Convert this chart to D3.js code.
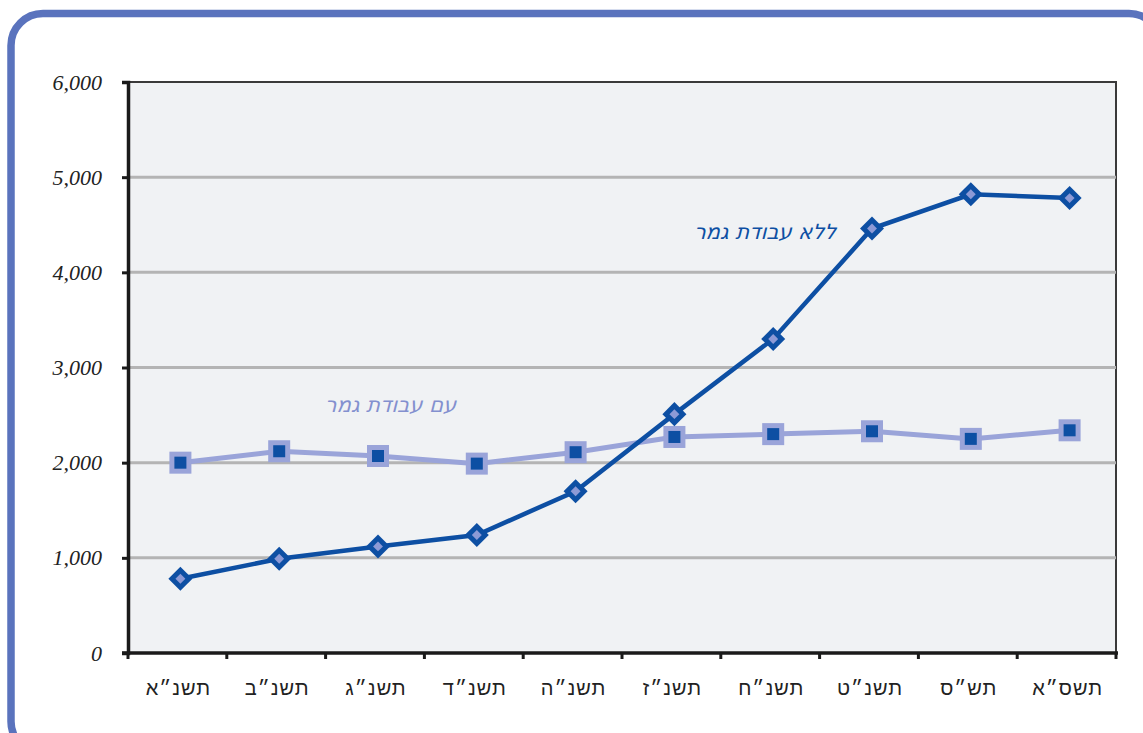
<!DOCTYPE html>
<html lang="he">
<head>
<meta charset="utf-8">
<script src="https://cdn.jsdelivr.net/npm/d3@7"></script>
<style>
    html, body { margin: 0; padding: 0; background: #fff; }
    svg { display: block; }
    .y-label { font-family: "Liberation Serif", "DejaVu Serif", serif; font-style: italic; font-size: 22px; fill: #222; }
    .x-label { font-family: "Liberation Sans", "DejaVu Sans", sans-serif; font-size: 20px; fill: #222; letter-spacing: 1px; }
    .note { font-family: "DejaVu Sans", "Liberation Sans", sans-serif; font-size: 21px; }
</style>
</head>
<body>
<div id="chart"></div>
<script>
// Years (Hebrew calendar) along the x axis
const years = ["תשנ״א", "תשנ״ב", "תשנ״ג", "תשנ״ד", "תשנ״ה", "תשנ״ז", "תשנ״ח", "תשנ״ט", "תש״ס", "תשס״א"];
// Without thesis (dark line, diamonds)
const withoutThesis = [780, 990, 1120, 1240, 1700, 2510, 3300, 4460, 4820, 4780];
// With thesis (light line, squares)
const withThesis = [2000, 2120, 2070, 1990, 2110, 2270, 2300, 2330, 2250, 2340];
const yTicks = [0, 1000, 2000, 3000, 4000, 5000, 6000];
const labelWithout = "ללא עבודת גמר";
const labelWith = "עם עבודת גמר";

const W = 1143, H = 733;
const margin = { top: 82, right: 27, bottom: 80, left: 128 };
const innerW = W - margin.left - margin.right;
const innerH = H - margin.top - margin.bottom;

const DARK = "#0d4fa3";
const LIGHT = "#9aa4d9";

const svg = d3.select("#chart").append("svg")
    .attr("width", W).attr("height", H);

// Rounded frame around the whole figure
svg.append("rect")
    .attr("x", 11).attr("y", 13.5)
    .attr("width", 1150).attr("height", 740)
    .attr("rx", 32).attr("ry", 32)
    .attr("fill", "none")
    .attr("stroke", "#5a73bd")
    .attr("stroke-width", 7.5);

const g = svg.append("g")
    .attr("transform", `translate(${margin.left},${margin.top})`);

const x = d3.scaleBand().domain(years).range([0, innerW]);
const y = d3.scaleLinear().domain([0, 6000]).range([innerH, 0]);

// Plot area
g.append("rect")
    .attr("width", innerW).attr("height", innerH)
    .attr("fill", "#f0f2f4")
    .attr("stroke", "#3a3a3a")
    .attr("stroke-width", 2);

// Gridlines
g.append("g")
    .selectAll("line")
    .data(yTicks.filter((v) => v > 0 && v < 6000))
    .join("line")
    .attr("x1", 0).attr("x2", innerW)
    .attr("y1", (d) => y(d)).attr("y2", (d) => y(d))
    .attr("stroke", "#b4b4b4")
    .attr("stroke-width", 3);

// Y axis
const yAxis = g.append("g")
    .call(d3.axisLeft(y).tickValues(yTicks)
        .tickFormat(d3.format(","))
        .tickSize(6).tickPadding(20));
yAxis.select(".domain").attr("stroke", "#1a1a1a").attr("stroke-width", 3.5);
yAxis.selectAll(".tick line").attr("stroke", "#1a1a1a").attr("stroke-width", 3);
yAxis.selectAll(".tick text").attr("class", "y-label").attr("fill", null);

// X axis: ticks at band edges, labels at band centres
const xAxis = g.append("g")
    .attr("transform", `translate(0,${innerH})`);
xAxis.append("line")
    .attr("x1", -6).attr("x2", innerW + 2)
    .attr("stroke", "#1a1a1a").attr("stroke-width", 3.5);
xAxis.selectAll(".xtick")
    .data(years.concat([null]))
    .join("line")
    .attr("class", "xtick")
    .attr("x1", (d, i) => i * x.bandwidth())
    .attr("x2", (d, i) => i * x.bandwidth())
    .attr("y1", 0).attr("y2", 6)
    .attr("stroke", "#1a1a1a").attr("stroke-width", 3);
xAxis.selectAll(".x-label")
    .data(years)
    .join("text")
    .attr("class", "x-label")
    .attr("x", (d) => x(d) + x.bandwidth() / 2 + 1)
    .attr("y", 42)
    .attr("text-anchor", "middle")
    .text((d) => d);

const cx = (i) => x(years[i]) + x.bandwidth() / 2 + 3;
const lineGen = d3.line()
    .x((d, i) => cx(i))
    .y((d) => y(d));

// With thesis series
g.append("path")
    .datum(withThesis)
    .attr("d", lineGen)
    .attr("fill", "none")
    .attr("stroke", LIGHT)
    .attr("stroke-width", 5);

const sq = g.append("g").selectAll("g")
    .data(withThesis)
    .join("g")
    .attr("transform", (d, i) => `translate(${cx(i)},${y(d)})`);
sq.append("rect")
    .attr("x", -11).attr("y", -11).attr("width", 22).attr("height", 22)
    .attr("fill", LIGHT);
sq.append("rect")
    .attr("x", -6).attr("y", -6).attr("width", 12).attr("height", 12)
    .attr("fill", DARK);

// Without thesis series
g.append("path")
    .datum(withoutThesis)
    .attr("d", lineGen)
    .attr("fill", "none")
    .attr("stroke", DARK)
    .attr("stroke-width", 4.5);

const dm = g.append("g").selectAll("g")
    .data(withoutThesis)
    .join("g")
    .attr("transform", (d, i) => `translate(${cx(i)},${y(d)}) rotate(45)`);
dm.append("rect")
    .attr("x", -8.5).attr("y", -8.5).attr("width", 17).attr("height", 17)
    .attr("fill", DARK);
dm.append("rect")
    .attr("x", -3.5).attr("y", -3.5).attr("width", 7).attr("height", 7)
    .attr("fill", "#8d9ad6");

// Handwritten-style annotations (slanted to mimic the script)
g.append("text")
    .attr("class", "note")
    .attr("transform", "translate(708,157) skewX(-14)")
    .attr("text-anchor", "end")
    .attr("fill", DARK)
    .attr("font-size", 25)
    .text(labelWithout);

g.append("text")
    .attr("class", "note")
    .attr("transform", "translate(328,330) skewX(-14)")
    .attr("text-anchor", "end")
    .attr("fill", "#8390cf")
    .attr("font-size", 22)
    .text(labelWith);
</script>
</body>
</html>
